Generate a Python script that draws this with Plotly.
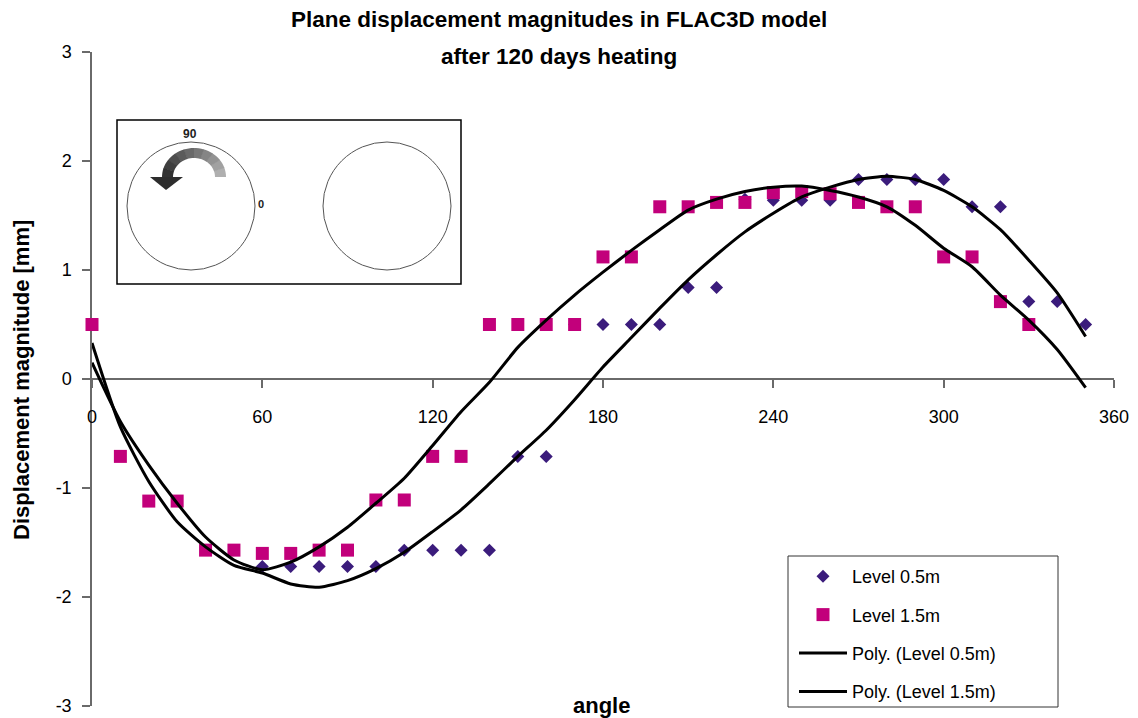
import plotly.graph_objects as go
import math

# ---------------- data ----------------
angles_05 = [60, 70, 80, 90, 100, 110, 120, 130, 140, 150, 160, 170, 180, 190, 200,
             210, 220, 230, 240, 250, 260, 270, 280, 290, 300, 310, 320, 330, 340, 350]
level_05 = [-1.72, -1.72, -1.72, -1.72, -1.72, -1.57, -1.57, -1.57, -1.57, -0.71, -0.71,
            0.50, 0.50, 0.50, 0.50, 0.84, 0.84, 1.65, 1.64, 1.64, 1.64, 1.83, 1.83, 1.83,
            1.83, 1.58, 1.58, 0.71, 0.71, 0.50]

angles_15 = [0, 10, 20, 30, 40, 50, 60, 70, 80, 90, 100, 110, 120, 130, 140, 150, 160,
             170, 180, 190, 200, 210, 220, 230, 240, 250, 260, 270, 280, 290, 300, 310,
             320, 330]
level_15 = [0.50, -0.71, -1.12, -1.12, -1.57, -1.57, -1.60, -1.60, -1.57, -1.57, -1.11,
            -1.11, -0.71, -0.71, 0.50, 0.50, 0.50, 0.50, 1.12, 1.12, 1.58, 1.58, 1.62,
            1.62, 1.71, 1.72, 1.70, 1.62, 1.58, 1.58, 1.12, 1.12, 0.71, 0.50]

trend_angles = [0, 10, 20, 30, 40, 50, 60, 70, 80, 90, 100, 110, 120, 130, 140, 150, 160,
                170, 180, 190, 200, 210, 220, 230, 240, 250, 260, 270, 280, 290, 300, 310,
                320, 330, 340, 350]
poly_05 = [0.33, -0.44, -0.94, -1.31, -1.54, -1.71, -1.78, -1.88, -1.91, -1.85, -1.74,
           -1.59, -1.40, -1.20, -0.96, -0.71, -0.47, -0.19, 0.11, 0.38, 0.65, 0.91, 1.14,
           1.35, 1.52, 1.67, 1.76, 1.83, 1.86, 1.83, 1.73, 1.58, 1.37, 1.09, 0.79, 0.39]
poly_15 = [0.15, -0.39, -0.79, -1.14, -1.45, -1.66, -1.75, -1.68, -1.54, -1.36, -1.14,
           -0.91, -0.61, -0.30, -0.03, 0.29, 0.54, 0.77, 0.98, 1.18, 1.37, 1.55, 1.65,
           1.72, 1.76, 1.77, 1.73, 1.67, 1.58, 1.41, 1.20, 1.03, 0.77, 0.54, 0.27, -0.08]

x_ticks = [0, 60, 120, 180, 240, 300, 360]
y_ticks = [-3, -2, -1, 0, 1, 2, 3]

FONT = "Liberation Sans"

# ---------------- figure ----------------
fig = go.Figure()
fig.add_trace(go.Scatter(x=angles_05, y=level_05, mode="markers", name="Level 0.5m",
                         marker=dict(symbol="diamond", size=10, color="#3B1C7C"),
                         cliponaxis=False, legendgroup="a"))
fig.add_trace(go.Scatter(x=angles_15, y=level_15, mode="markers", name="Level 1.5m",
                         marker=dict(symbol="square", size=13, color="#C2007B"),
                         cliponaxis=False, legendgroup="b"))
fig.add_trace(go.Scatter(x=trend_angles, y=poly_05, mode="lines", name="Poly. (Level 0.5m)",
                         line=dict(color="black", width=3, shape="spline", smoothing=0.6),
                         legendgroup="c"))
fig.add_trace(go.Scatter(x=trend_angles, y=poly_15, mode="lines", name="Poly. (Level 1.5m)",
                         line=dict(color="black", width=3, shape="spline", smoothing=0.6),
                         legendgroup="d"))

L, R, T, B = 92, 1114, 52, 706
W, H = 1138, 718


def pp(x, y):
    return ((x - L) / (R - L), (B - y) / (B - T))


shapes = []
# inset frame
x0, y0 = pp(117, 284)
x1, y1 = pp(461, 120)
shapes.append(dict(type="rect", xref="paper", yref="paper", x0=x0, y0=y0, x1=x1, y1=y1,
                   line=dict(color="black", width=1.5), fillcolor="white", layer="below"))
# circles
for cx in (191, 387):
    a0, b0 = pp(cx - 64, 206 + 64)
    a1, b1 = pp(cx + 64, 206 - 64)
    shapes.append(dict(type="circle", xref="paper", yref="paper", x0=a0, y0=b0, x1=a1, y1=b1,
                       line=dict(color="#555555", width=1)))

# curved arrow (gradient band)
acx, acy = 194, 177
Ro_x, Ro_y, Ri_x, Ri_y = 32, 29, 21, 19
nseg = 10
for i in range(nseg):
    t0 = math.pi * i / nseg
    t1 = math.pi * (i + 1) / nseg + 0.02
    pts = []
    for k in range(5):
        t = t0 + (t1 - t0) * k / 4
        pts.append((acx + Ro_x * math.cos(t), acy - Ro_y * math.sin(t)))
    for k in range(5):
        t = t1 - (t1 - t0) * k / 4
        pts.append((acx + Ri_x * math.cos(t), acy - Ri_y * math.sin(t)))
    path = "M " + " L ".join("%.5f,%.5f" % pp(*p) for p in pts) + " Z"
    g = int(175 - 125 * (i / (nseg - 1)))
    col = "rgb(%d,%d,%d)" % (g, g, g)
    shapes.append(dict(type="path", xref="paper", yref="paper", path=path,
                       fillcolor=col, line=dict(width=0)))
head = [(150, 177), (183, 177), (166, 190)]
path = "M " + " L ".join("%.5f,%.5f" % pp(*p) for p in head) + " Z"
shapes.append(dict(type="path", xref="paper", yref="paper", path=path,
                   fillcolor="rgb(45,45,45)", line=dict(width=0)))

# legend frame
a0, b0 = pp(788, 707)
a1, b1 = pp(1058, 556)
shapes.append(dict(type="rect", xref="paper", yref="paper", x0=a0, y0=b0, x1=a1, y1=b1,
                   line=dict(color="#333333", width=1), fillcolor="white", layer="below"))


def note(text, x, y, size, angle=0, color="black"):
    ax, ay = pp(x, y)
    return dict(text=text, x=ax, y=ay, xref="paper", yref="paper", showarrow=False,
                xanchor="center", yanchor="middle", textangle=angle,
                font=dict(family=FONT, size=size, color=color))


annotations = [
    note("<b>Plane displacement magnitudes in FLAC3D model</b>", 559, 20, 22.5),
    note("<b>after 120 days heating</b>", 559, 57, 22.5),
    note("<b>Displacement magnitude [mm]</b>", 22, 380, 22, angle=-90),
    note("<b>angle</b>", 601, 705, 22),
    note("<b>90</b>", 190, 134, 12, color="#222"),
    note("<b>0</b>", 261, 204, 11, color="#222"),
]

lx, ly = pp(794, 558)
fig.update_layout(
    width=W, height=H,
    margin=dict(l=L, r=W - R, t=T, b=H - B, autoexpand=False),
    paper_bgcolor="white", plot_bgcolor="white",
    font=dict(family=FONT, size=16, color="black"),
    showlegend=True,
    legend=dict(x=lx, y=ly, xanchor="left", yanchor="top", bgcolor="rgba(0,0,0,0)",
                borderwidth=0, font=dict(family=FONT, size=18),
                tracegroupgap=12, itemwidth=48),
    xaxis=dict(range=[0, 360], tickvals=x_ticks, ticktext=[str(v) for v in x_ticks],
               anchor="free", position=0.5, showline=True, linecolor="#6a6a6a", linewidth=1.5,
               ticks="outside", ticklen=8, tickcolor="#6a6a6a", tickwidth=1.5,
               ticklabelstandoff=14, showgrid=False, zeroline=False, layer="below traces",
               tickfont=dict(family=FONT, size=18, color="black")),
    yaxis=dict(range=[-3, 3], tickvals=y_ticks, ticktext=[str(v) for v in y_ticks],
               showline=True, linecolor="#6a6a6a", linewidth=1.5,
               ticks="outside", ticklen=8, tickcolor="#6a6a6a", tickwidth=1.5,
               ticklabelstandoff=7, showgrid=False, zeroline=False, layer="below traces",
               tickfont=dict(family=FONT, size=18, color="black")),
    shapes=shapes,
    annotations=annotations,
)

fig.write_html("out.html")
